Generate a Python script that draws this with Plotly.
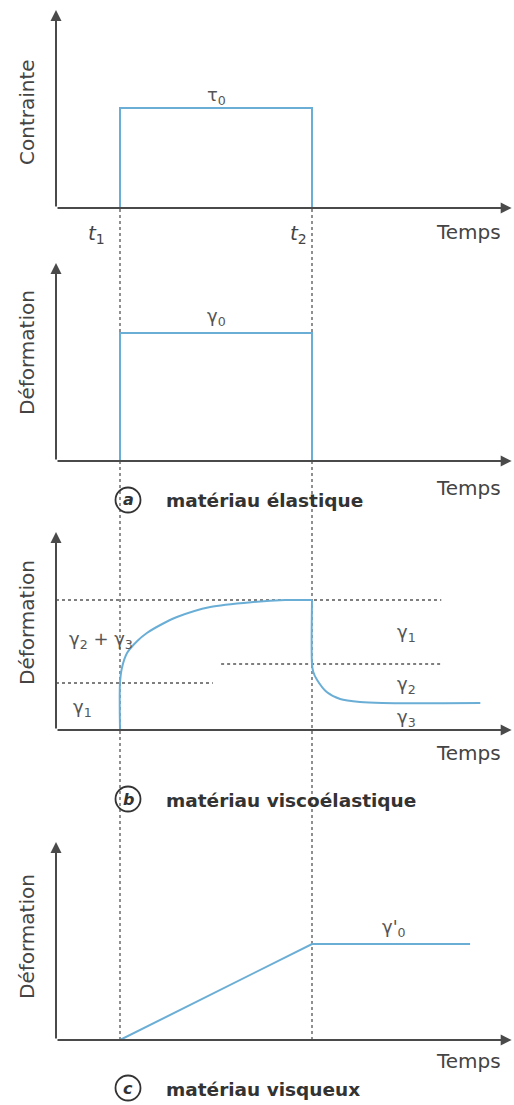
import plotly.graph_objects as go

# time axis: origin 0, load applied at t1, removed at t2
T1 = 1.0
T2 = 4.0
X_END = 7.12
Y_TIP = 1.98

# top panel: contrainte
stress_t = [T1, T1, T2, T2]
stress_v = [0.0, 1.0, 1.0, 0.0]

# (a) elastic
elastic_t = [T1, T1, T2, T2]
elastic_v = [0.0, 1.28, 1.28, 0.0]

# (b) viscoelastic creep + recovery
visco_t = [1.0, 1.0, 1.03, 1.11, 1.27, 1.42, 1.66, 1.89, 2.41, 3.08, 3.58, 4.0]
visco_v = [0.0, 0.47, 0.62, 0.77, 0.89, 0.97, 1.06, 1.13, 1.23, 1.28, 1.30, 1.30]
recov_t = [4.0, 4.0, 4.02, 4.08, 4.23, 4.44, 4.75, 5.1, 6.63]
recov_v = [1.30, 0.66, 0.58, 0.50, 0.38, 0.31, 0.28, 0.27, 0.27]
level_top = 1.30
level_mid = 0.66
level_g1 = 0.47

# (c) viscous
visq_t = [T1, T2, 6.47]
visq_v = [0.0, 0.96, 0.96]

BLUE = "#6aaed6"
AXIS = "#4a4a4a"
DASH = "#555555"
FONT = "DejaVu Sans"
W, H = 514, 1105

# pixel row of each panel's time axis
BASES = [208, 461, 730, 1040]


def dom(base):
    return [1 - base / H, 1 - (base - 205) / H]


fig = go.Figure()
line = dict(color=BLUE, width=2)
curve = dict(color=BLUE, width=2, shape="spline", smoothing=0.8)
fig.add_trace(go.Scatter(x=stress_t, y=stress_v, mode="lines", line=line, yaxis="y"))
fig.add_trace(go.Scatter(x=elastic_t, y=elastic_v, mode="lines", line=line, yaxis="y2"))
fig.add_trace(go.Scatter(x=visco_t, y=visco_v, mode="lines", line=curve, yaxis="y3"))
fig.add_trace(go.Scatter(x=recov_t, y=recov_v, mode="lines", line=curve, yaxis="y3"))
fig.add_trace(go.Scatter(x=visq_t, y=visq_v, mode="lines", line=line, yaxis="y4"))

shapes = []
dash = dict(color=DASH, width=1.3, dash="3px,3px")
for t in (T1, T2):
    shapes.append(dict(type="line", xref="x", yref="paper", x0=t, x1=t,
                       y0=1 - BASES[3] / H, y1=1 - BASES[0] / H, line=dash, layer="below"))
for y, x0, x1 in [(level_top, 0, 6.02), (level_mid, 2.58, 6.02), (level_g1, 0, 2.45)]:
    shapes.append(dict(type="line", xref="x", yref="y3", x0=x0, x1=x1, y0=y, y1=y,
                       line=dash, layer="below"))

ann = []
yrefs = ["y", "y2", "y3", "y4"]
for yr in yrefs:
    # axes with arrow heads
    ann.append(dict(x=X_END, y=0, ax=0, ay=0, xref="x", yref=yr, axref="x", ayref=yr,
                    showarrow=True, arrowhead=2, arrowsize=1.1, arrowwidth=2, arrowcolor=AXIS, text=""))
    ann.append(dict(x=0, y=Y_TIP, ax=0, ay=0, xref="x", yref=yr, axref="x", ayref=yr,
                    showarrow=True, arrowhead=2, arrowsize=1.1, arrowwidth=2, arrowcolor=AXIS, text=""))

ylab = dict(family=FONT, size=20, color="#444")
txt = dict(family=FONT, size=20, color="#444")
greek = dict(family=FONT, size=18, color="#555")


def label(text, x, y, yref, font=greek, **kw):
    ann.append(dict(text=text, x=x, y=y, xref="x", yref=yref, showarrow=False, font=font,
                    xanchor="center", yanchor="middle", **kw))


def plabel(text, px, py, font=txt, xanchor="center", **kw):
    ann.append(dict(text=text, x=px / W, y=1 - py / H, xref="paper", yref="paper",
                    showarrow=False, font=font, xanchor=xanchor, yanchor="middle", **kw))


plabel("Contrainte", 27, 112, font=ylab, textangle=-90)
plabel("Déformation", 27, 353, font=ylab, textangle=-90)
plabel("Déformation", 27, 623, font=ylab, textangle=-90)
plabel("Déformation", 27, 937, font=ylab, textangle=-90)
for py in (232, 488, 753, 1061):
    plabel("Temps", 468, py)

tfont = dict(family=FONT, size=20, color="#444")
plabel("<i>t</i><sub>1</sub>", 96, 234, font=tfont)
plabel("<i>t</i><sub>2</sub>", 298, 234, font=tfont)

label("τ<sub>0</sub>", 2.5, 1.12, "y")
label("γ<sub>0</sub>", 2.5, 1.44, "y2")
label("γ<sub>2</sub> + γ<sub>3</sub>", 0.7, 0.9, "y3")
label("γ<sub>1</sub>", 0.42, 0.22, "y3")
label("γ<sub>1</sub>", 5.48, 0.97, "y3")
label("γ<sub>2</sub>", 5.48, 0.45, "y3")
label("γ<sub>3</sub>", 5.48, 0.12, "y3")
label("γ'<sub>0</sub>", 5.28, 1.12, "y4")

# captions: circled letter + bold text
cap = dict(family=FONT, size=18.5, color="#333")
for letter, py, words in [("a", 500, "matériau élastique"),
                          ("b", 799, "matériau viscoélastique"),
                          ("c", 1088, "matériau visqueux")]:
    cx, r = 128, 12.5
    shapes.append(dict(type="circle", xref="paper", yref="paper",
                       x0=(cx - r) / W, x1=(cx + r) / W,
                       y0=1 - (py + r) / H, y1=1 - (py - r) / H,
                       line=dict(color="#333", width=1.8)))
    plabel("<b><i>" + letter + "</i></b>", cx, py, font=dict(family=FONT, size=16, color="#333"))
    plabel("<b>" + words + "</b>", 164, py + 1, font=cap, xanchor="left")

layout_axes = {}
for i, base in enumerate(BASES):
    key = "yaxis" if i == 0 else f"yaxis{i + 1}"
    layout_axes[key] = dict(domain=dom(base), range=[0, 2.05], visible=False, anchor="x",
                            fixedrange=True)

fig.update_layout(
    width=W, height=H,
    margin=dict(l=0, r=0, t=0, b=0),
    paper_bgcolor="white", plot_bgcolor="white",
    showlegend=False,
    xaxis=dict(domain=[0, 1], range=[-56 / 64, (W - 56) / 64], visible=False, fixedrange=True),
    shapes=shapes,
    annotations=ann,
    **layout_axes,
)

# page body has a default 8px margin; drop it so the figure fills the window
fig.write_html("out.html", config={"displayModeBar": False},
               post_script="document.body.style.margin='0';")
